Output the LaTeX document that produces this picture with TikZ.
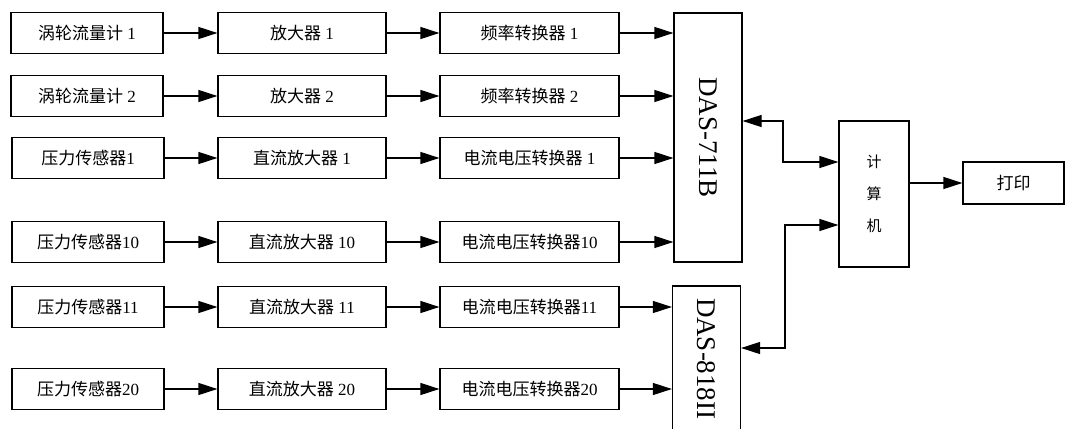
\documentclass[tikz,border=0pt]{standalone}
\usepackage{fontspec}
\setmainfont{Liberation Serif}
\newfontfamily\cjk{Noto Sans CJK SC}
\usetikzlibrary{arrows.meta}

\newcommand{\zh}[1]{{\cjk #1}}

\tikzset{
  blk/.style={draw, line width=1.2pt, minimum height=41pt, inner sep=2pt,
    font=\fontsize{17}{20}\selectfont},
  daq/.style={draw, line width=1.2pt, rotate=-90, minimum height=68pt,
    font=\fontsize{27}{30}\selectfont},
  sig/.style={-{Triangle[length=19pt,width=12pt]}, line width=1.2pt},
  bus/.style={{Triangle[length=19pt,width=12pt]}-{Triangle[length=19pt,width=12pt]}, line width=1.2pt}
}

\begin{document}
\begin{tikzpicture}[x=1pt,y=-1pt]
\useasboundingbox (0,0) rectangle (1067,428);

% sensors
\node[blk, minimum width=152pt] (s1) at (87,33) {\zh{涡轮流量计} 1};
\node[blk, minimum width=152pt] (s2) at (87,96) {\zh{涡轮流量计} 2};
\node[blk, minimum width=152pt] (s3) at (88,158) {\zh{压力传感器}1};
\node[blk, minimum width=152pt] (s4) at (88,242) {\zh{压力传感器}10};
\node[blk, minimum width=152pt] (s5) at (88,307) {\zh{压力传感器}11};
\node[blk, minimum width=152pt] (s6) at (88,389) {\zh{压力传感器}20};

% amplifiers
\node[blk, minimum width=168pt] (a1) at (302,33) {\zh{放大器} 1};
\node[blk, minimum width=168pt] (a2) at (302,96) {\zh{放大器} 2};
\node[blk, minimum width=168pt] (a3) at (302,158) {\zh{直流放大器} 1};
\node[blk, minimum width=168pt] (a4) at (302,242) {\zh{直流放大器} 10};
\node[blk, minimum width=168pt] (a5) at (302,307) {\zh{直流放大器} 11};
\node[blk, minimum width=168pt] (a6) at (302,389) {\zh{直流放大器} 20};

% converters
\node[blk, minimum width=179pt] (c1) at (529.5,33) {\zh{频率转换器} 1};
\node[blk, minimum width=179pt] (c2) at (529.5,96) {\zh{频率转换器} 2};
\node[blk, minimum width=179pt] (c3) at (529.5,158) {\zh{电流电压转换器} 1};
\node[blk, minimum width=179pt] (c4) at (529.5,242) {\zh{电流电压转换器}10};
\node[blk, minimum width=179pt] (c5) at (529.5,307) {\zh{电流电压转换器}11};
\node[blk, minimum width=179pt] (c6) at (529.5,389) {\zh{电流电压转换器}20};

% data acquisition cards
\node[daq, minimum width=249pt] (das1) at (708,137.5) {DAS-711B};
\node[daq, minimum width=190pt, text width=166pt, inner xsep=12pt, align=left]
  (das2) at (706.5,381) {DAS-818II};

% computer and printer
\node[blk, minimum width=70pt, minimum height=146pt, align=center,
  font=\fontsize{15}{32}\selectfont\cjk] (pc) at (874,194) {计\\算\\机};
\node[blk, minimum width=101pt, minimum height=42pt] (prn) at (1013.5,183) {\zh{打印}};

\foreach \i in {1,...,6}{
  \draw[sig] (s\i) -- (a\i);
  \draw[sig] (a\i) -- (c\i);
}
\foreach \i in {1,...,4}
  \draw[sig] (c\i.east) -- (c\i.east -| das1.south);
\foreach \i in {5,6}
  \draw[sig] (c\i.east) -- (c\i.east -| das2.south);

% bus lines to the computer
\coordinate (j1) at (783,121);
\coordinate (j2) at (783,162);
\coordinate (j3) at (785,225);
\coordinate (j4) at (785,348);
\draw[bus] (das1.north |- j1) -- (j1) -- (j2) -- (pc.west |- j2);
\draw[bus] (das2.north |- j4) -- (j4) -- (j3) -- (pc.west |- j3);

\draw[sig] (pc.east |- prn.west) -- (prn.west);
\end{tikzpicture}
\end{document}
